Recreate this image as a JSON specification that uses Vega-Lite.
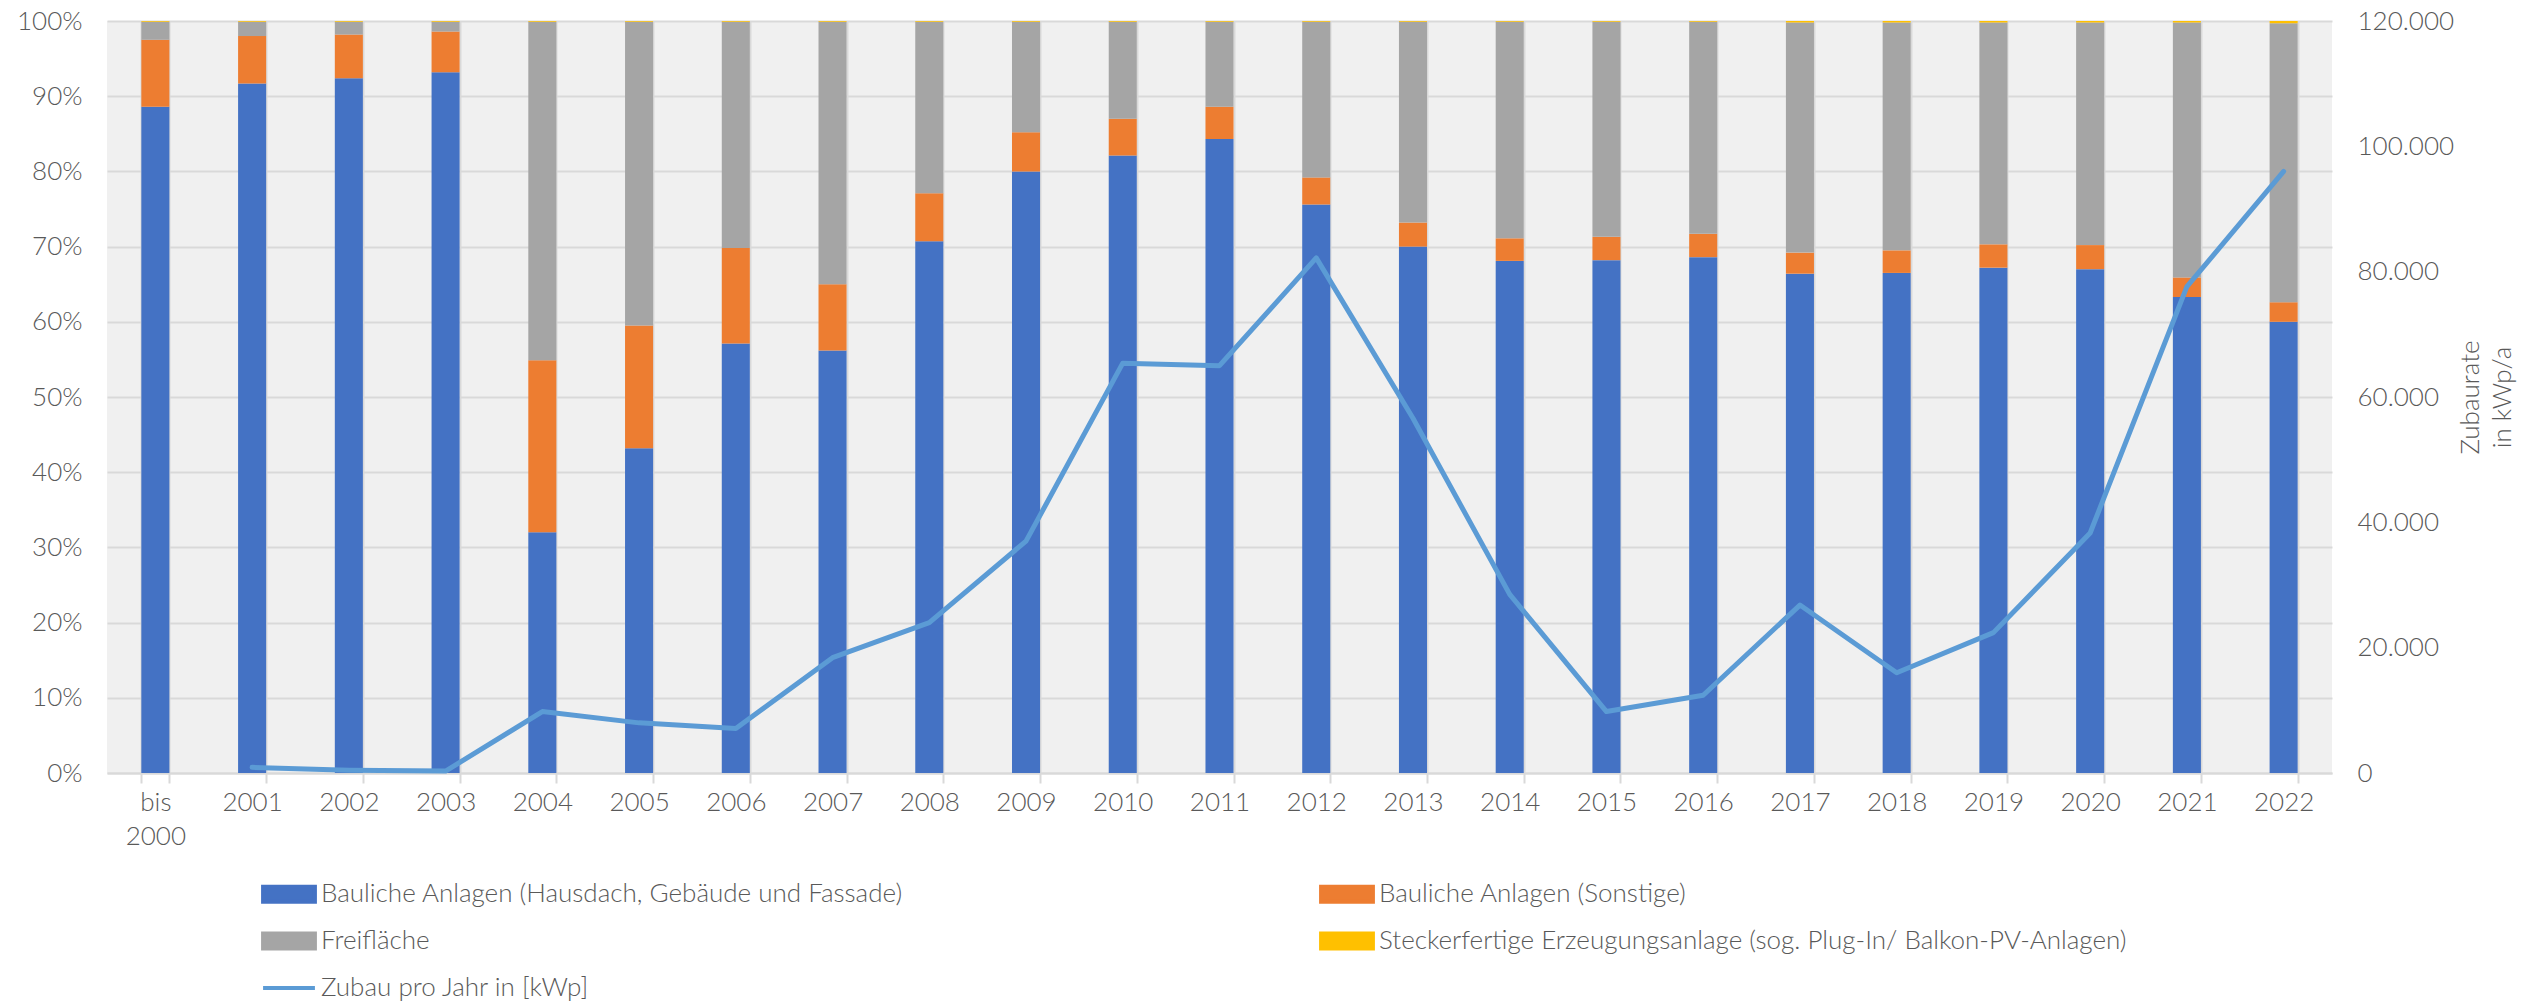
{
  "$schema": "https://vega.github.io/schema/vega-lite/v6.json",
  "autosize": "none",
  "width": 2225,
  "height": 752,
  "padding": {"left": 107, "top": 21, "right": 197, "bottom": 234},
  "background": "white",
  "config": {
    "view": {"stroke": null, "fill": "#f0f0f0"},
    "font": "Lato",
    "axis": {"labelFont": "Lato", "labelFontWeight": 300, "labelFontSize": 26, "labelColor": "#595959", "titleFont": "Lato", "titleFontWeight": 300, "titleFontSize": 26, "titleColor": "#595959"},
    "legend": {"labelFont": "Lato", "labelFontWeight": 300, "labelFontSize": 26, "labelColor": "#595959"}
  },
  "datasets": {
    "anteile": [
      {"jahr": "bis 2000", "kategorie": "Bauliche Anlagen (Hausdach, Gebäude und Fassade)", "anteil": 88.6},
      {"jahr": "bis 2000", "kategorie": "Bauliche Anlagen (Sonstige)", "anteil": 8.9},
      {"jahr": "bis 2000", "kategorie": "Freifläche", "anteil": 2.4},
      {"jahr": "bis 2000", "kategorie": "Steckerfertige Erzeugungsanlage (sog. Plug-In/ Balkon-PV-Anlagen)", "anteil": 0.1},
      {"jahr": "2001", "kategorie": "Bauliche Anlagen (Hausdach, Gebäude und Fassade)", "anteil": 91.7},
      {"jahr": "2001", "kategorie": "Bauliche Anlagen (Sonstige)", "anteil": 6.3},
      {"jahr": "2001", "kategorie": "Freifläche", "anteil": 1.9},
      {"jahr": "2001", "kategorie": "Steckerfertige Erzeugungsanlage (sog. Plug-In/ Balkon-PV-Anlagen)", "anteil": 0.1},
      {"jahr": "2002", "kategorie": "Bauliche Anlagen (Hausdach, Gebäude und Fassade)", "anteil": 92.4},
      {"jahr": "2002", "kategorie": "Bauliche Anlagen (Sonstige)", "anteil": 5.8},
      {"jahr": "2002", "kategorie": "Freifläche", "anteil": 1.7},
      {"jahr": "2002", "kategorie": "Steckerfertige Erzeugungsanlage (sog. Plug-In/ Balkon-PV-Anlagen)", "anteil": 0.1},
      {"jahr": "2003", "kategorie": "Bauliche Anlagen (Hausdach, Gebäude und Fassade)", "anteil": 93.2},
      {"jahr": "2003", "kategorie": "Bauliche Anlagen (Sonstige)", "anteil": 5.4},
      {"jahr": "2003", "kategorie": "Freifläche", "anteil": 1.3},
      {"jahr": "2003", "kategorie": "Steckerfertige Erzeugungsanlage (sog. Plug-In/ Balkon-PV-Anlagen)", "anteil": 0.1},
      {"jahr": "2004", "kategorie": "Bauliche Anlagen (Hausdach, Gebäude und Fassade)", "anteil": 32.0},
      {"jahr": "2004", "kategorie": "Bauliche Anlagen (Sonstige)", "anteil": 22.9},
      {"jahr": "2004", "kategorie": "Freifläche", "anteil": 45.0},
      {"jahr": "2004", "kategorie": "Steckerfertige Erzeugungsanlage (sog. Plug-In/ Balkon-PV-Anlagen)", "anteil": 0.1},
      {"jahr": "2005", "kategorie": "Bauliche Anlagen (Hausdach, Gebäude und Fassade)", "anteil": 43.2},
      {"jahr": "2005", "kategorie": "Bauliche Anlagen (Sonstige)", "anteil": 16.3},
      {"jahr": "2005", "kategorie": "Freifläche", "anteil": 40.4},
      {"jahr": "2005", "kategorie": "Steckerfertige Erzeugungsanlage (sog. Plug-In/ Balkon-PV-Anlagen)", "anteil": 0.1},
      {"jahr": "2006", "kategorie": "Bauliche Anlagen (Hausdach, Gebäude und Fassade)", "anteil": 57.1},
      {"jahr": "2006", "kategorie": "Bauliche Anlagen (Sonstige)", "anteil": 12.7},
      {"jahr": "2006", "kategorie": "Freifläche", "anteil": 30.1},
      {"jahr": "2006", "kategorie": "Steckerfertige Erzeugungsanlage (sog. Plug-In/ Balkon-PV-Anlagen)", "anteil": 0.1},
      {"jahr": "2007", "kategorie": "Bauliche Anlagen (Hausdach, Gebäude und Fassade)", "anteil": 56.2},
      {"jahr": "2007", "kategorie": "Bauliche Anlagen (Sonstige)", "anteil": 8.8},
      {"jahr": "2007", "kategorie": "Freifläche", "anteil": 34.9},
      {"jahr": "2007", "kategorie": "Steckerfertige Erzeugungsanlage (sog. Plug-In/ Balkon-PV-Anlagen)", "anteil": 0.1},
      {"jahr": "2008", "kategorie": "Bauliche Anlagen (Hausdach, Gebäude und Fassade)", "anteil": 70.7},
      {"jahr": "2008", "kategorie": "Bauliche Anlagen (Sonstige)", "anteil": 6.4},
      {"jahr": "2008", "kategorie": "Freifläche", "anteil": 22.8},
      {"jahr": "2008", "kategorie": "Steckerfertige Erzeugungsanlage (sog. Plug-In/ Balkon-PV-Anlagen)", "anteil": 0.1},
      {"jahr": "2009", "kategorie": "Bauliche Anlagen (Hausdach, Gebäude und Fassade)", "anteil": 80.0},
      {"jahr": "2009", "kategorie": "Bauliche Anlagen (Sonstige)", "anteil": 5.2},
      {"jahr": "2009", "kategorie": "Freifläche", "anteil": 14.7},
      {"jahr": "2009", "kategorie": "Steckerfertige Erzeugungsanlage (sog. Plug-In/ Balkon-PV-Anlagen)", "anteil": 0.1},
      {"jahr": "2010", "kategorie": "Bauliche Anlagen (Hausdach, Gebäude und Fassade)", "anteil": 82.1},
      {"jahr": "2010", "kategorie": "Bauliche Anlagen (Sonstige)", "anteil": 4.9},
      {"jahr": "2010", "kategorie": "Freifläche", "anteil": 12.9},
      {"jahr": "2010", "kategorie": "Steckerfertige Erzeugungsanlage (sog. Plug-In/ Balkon-PV-Anlagen)", "anteil": 0.1},
      {"jahr": "2011", "kategorie": "Bauliche Anlagen (Hausdach, Gebäude und Fassade)", "anteil": 84.3},
      {"jahr": "2011", "kategorie": "Bauliche Anlagen (Sonstige)", "anteil": 4.3},
      {"jahr": "2011", "kategorie": "Freifläche", "anteil": 11.3},
      {"jahr": "2011", "kategorie": "Steckerfertige Erzeugungsanlage (sog. Plug-In/ Balkon-PV-Anlagen)", "anteil": 0.1},
      {"jahr": "2012", "kategorie": "Bauliche Anlagen (Hausdach, Gebäude und Fassade)", "anteil": 75.6},
      {"jahr": "2012", "kategorie": "Bauliche Anlagen (Sonstige)", "anteil": 3.6},
      {"jahr": "2012", "kategorie": "Freifläche", "anteil": 20.7},
      {"jahr": "2012", "kategorie": "Steckerfertige Erzeugungsanlage (sog. Plug-In/ Balkon-PV-Anlagen)", "anteil": 0.1},
      {"jahr": "2013", "kategorie": "Bauliche Anlagen (Hausdach, Gebäude und Fassade)", "anteil": 70.0},
      {"jahr": "2013", "kategorie": "Bauliche Anlagen (Sonstige)", "anteil": 3.2},
      {"jahr": "2013", "kategorie": "Freifläche", "anteil": 26.7},
      {"jahr": "2013", "kategorie": "Steckerfertige Erzeugungsanlage (sog. Plug-In/ Balkon-PV-Anlagen)", "anteil": 0.1},
      {"jahr": "2014", "kategorie": "Bauliche Anlagen (Hausdach, Gebäude und Fassade)", "anteil": 68.1},
      {"jahr": "2014", "kategorie": "Bauliche Anlagen (Sonstige)", "anteil": 3.0},
      {"jahr": "2014", "kategorie": "Freifläche", "anteil": 28.8},
      {"jahr": "2014", "kategorie": "Steckerfertige Erzeugungsanlage (sog. Plug-In/ Balkon-PV-Anlagen)", "anteil": 0.1},
      {"jahr": "2015", "kategorie": "Bauliche Anlagen (Hausdach, Gebäude und Fassade)", "anteil": 68.2},
      {"jahr": "2015", "kategorie": "Bauliche Anlagen (Sonstige)", "anteil": 3.1},
      {"jahr": "2015", "kategorie": "Freifläche", "anteil": 28.6},
      {"jahr": "2015", "kategorie": "Steckerfertige Erzeugungsanlage (sog. Plug-In/ Balkon-PV-Anlagen)", "anteil": 0.1},
      {"jahr": "2016", "kategorie": "Bauliche Anlagen (Hausdach, Gebäude und Fassade)", "anteil": 68.6},
      {"jahr": "2016", "kategorie": "Bauliche Anlagen (Sonstige)", "anteil": 3.1},
      {"jahr": "2016", "kategorie": "Freifläche", "anteil": 28.2},
      {"jahr": "2016", "kategorie": "Steckerfertige Erzeugungsanlage (sog. Plug-In/ Balkon-PV-Anlagen)", "anteil": 0.1},
      {"jahr": "2017", "kategorie": "Bauliche Anlagen (Hausdach, Gebäude und Fassade)", "anteil": 66.4},
      {"jahr": "2017", "kategorie": "Bauliche Anlagen (Sonstige)", "anteil": 2.8},
      {"jahr": "2017", "kategorie": "Freifläche", "anteil": 30.6},
      {"jahr": "2017", "kategorie": "Steckerfertige Erzeugungsanlage (sog. Plug-In/ Balkon-PV-Anlagen)", "anteil": 0.2},
      {"jahr": "2018", "kategorie": "Bauliche Anlagen (Hausdach, Gebäude und Fassade)", "anteil": 66.5},
      {"jahr": "2018", "kategorie": "Bauliche Anlagen (Sonstige)", "anteil": 3.0},
      {"jahr": "2018", "kategorie": "Freifläche", "anteil": 30.3},
      {"jahr": "2018", "kategorie": "Steckerfertige Erzeugungsanlage (sog. Plug-In/ Balkon-PV-Anlagen)", "anteil": 0.2},
      {"jahr": "2019", "kategorie": "Bauliche Anlagen (Hausdach, Gebäude und Fassade)", "anteil": 67.2},
      {"jahr": "2019", "kategorie": "Bauliche Anlagen (Sonstige)", "anteil": 3.1},
      {"jahr": "2019", "kategorie": "Freifläche", "anteil": 29.5},
      {"jahr": "2019", "kategorie": "Steckerfertige Erzeugungsanlage (sog. Plug-In/ Balkon-PV-Anlagen)", "anteil": 0.2},
      {"jahr": "2020", "kategorie": "Bauliche Anlagen (Hausdach, Gebäude und Fassade)", "anteil": 67.0},
      {"jahr": "2020", "kategorie": "Bauliche Anlagen (Sonstige)", "anteil": 3.2},
      {"jahr": "2020", "kategorie": "Freifläche", "anteil": 29.6},
      {"jahr": "2020", "kategorie": "Steckerfertige Erzeugungsanlage (sog. Plug-In/ Balkon-PV-Anlagen)", "anteil": 0.2},
      {"jahr": "2021", "kategorie": "Bauliche Anlagen (Hausdach, Gebäude und Fassade)", "anteil": 63.3},
      {"jahr": "2021", "kategorie": "Bauliche Anlagen (Sonstige)", "anteil": 2.6},
      {"jahr": "2021", "kategorie": "Freifläche", "anteil": 33.9},
      {"jahr": "2021", "kategorie": "Steckerfertige Erzeugungsanlage (sog. Plug-In/ Balkon-PV-Anlagen)", "anteil": 0.2},
      {"jahr": "2022", "kategorie": "Bauliche Anlagen (Hausdach, Gebäude und Fassade)", "anteil": 60.0},
      {"jahr": "2022", "kategorie": "Bauliche Anlagen (Sonstige)", "anteil": 2.6},
      {"jahr": "2022", "kategorie": "Freifläche", "anteil": 37.1},
      {"jahr": "2022", "kategorie": "Steckerfertige Erzeugungsanlage (sog. Plug-In/ Balkon-PV-Anlagen)", "anteil": 0.3}
    ],
    "zubau": [
      {"jahr": "2001", "serie": "Zubau pro Jahr in [kWp]", "kwp": 900},
      {"jahr": "2002", "serie": "Zubau pro Jahr in [kWp]", "kwp": 450},
      {"jahr": "2003", "serie": "Zubau pro Jahr in [kWp]", "kwp": 300},
      {"jahr": "2004", "serie": "Zubau pro Jahr in [kWp]", "kwp": 9800},
      {"jahr": "2005", "serie": "Zubau pro Jahr in [kWp]", "kwp": 8000},
      {"jahr": "2006", "serie": "Zubau pro Jahr in [kWp]", "kwp": 7100},
      {"jahr": "2007", "serie": "Zubau pro Jahr in [kWp]", "kwp": 18400},
      {"jahr": "2008", "serie": "Zubau pro Jahr in [kWp]", "kwp": 24000},
      {"jahr": "2009", "serie": "Zubau pro Jahr in [kWp]", "kwp": 37000},
      {"jahr": "2010", "serie": "Zubau pro Jahr in [kWp]", "kwp": 65400},
      {"jahr": "2011", "serie": "Zubau pro Jahr in [kWp]", "kwp": 65000},
      {"jahr": "2012", "serie": "Zubau pro Jahr in [kWp]", "kwp": 82200},
      {"jahr": "2013", "serie": "Zubau pro Jahr in [kWp]", "kwp": 56600},
      {"jahr": "2014", "serie": "Zubau pro Jahr in [kWp]", "kwp": 28500},
      {"jahr": "2015", "serie": "Zubau pro Jahr in [kWp]", "kwp": 9800},
      {"jahr": "2016", "serie": "Zubau pro Jahr in [kWp]", "kwp": 12400},
      {"jahr": "2017", "serie": "Zubau pro Jahr in [kWp]", "kwp": 26800},
      {"jahr": "2018", "serie": "Zubau pro Jahr in [kWp]", "kwp": 16000},
      {"jahr": "2019", "serie": "Zubau pro Jahr in [kWp]", "kwp": 22400},
      {"jahr": "2020", "serie": "Zubau pro Jahr in [kWp]", "kwp": 38300},
      {"jahr": "2021", "serie": "Zubau pro Jahr in [kWp]", "kwp": 77600},
      {"jahr": "2022", "serie": "Zubau pro Jahr in [kWp]", "kwp": 96000}
    ]
  },
  "encoding": {
    "x": {
      "field": "jahr",
      "type": "nominal",
      "sort": null,
      "scale": {"domain": ["bis 2000", "2001", "2002", "2003", "2004", "2005", "2006", "2007", "2008", "2009", "2010", "2011", "2012", "2013", "2014", "2015", "2016", "2017", "2018", "2019", "2020", "2021", "2022"], "paddingInner": 0.71, "paddingOuter": 0.355},
      "axis": {
        "title": null,
        "labelAngle": 0,
        "labelExpr": "datum.label == 'bis 2000' ? ['bis', '2000'] : datum.label",
        "labelLineHeight": 34,
        "labelPadding": 6,
        "labelBaseline": "top",
        "tickBand": "extent",
        "tickSize": 10,
        "tickColor": "#d9d9d9",
        "tickWidth": 2,
        "domainColor": "#d9d9d9",
        "domainWidth": 2,
        "grid": true,
        "gridColor": "#d9d9d9",
        "gridWidth": 2
      }
    },
    "color": {
      "field": "kategorie",
      "type": "nominal",
      "scale": {
        "domain": ["Bauliche Anlagen (Hausdach, Gebäude und Fassade)", "Bauliche Anlagen (Sonstige)", "Freifläche", "Steckerfertige Erzeugungsanlage (sog. Plug-In/ Balkon-PV-Anlagen)", "Zubau pro Jahr in [kWp]"],
        "range": ["#4472c4", "#ed7d31", "#a5a5a5", "#ffc000", "#5b9bd5"]
      },
      "legend": {
        "title": null,
        "orient": "none",
        "direction": "horizontal",
        "legendX": 156,
        "legendY": 847,
        "columns": 2,
        "columnPadding": 410,
        "rowPadding": 5,
        "labelLimit": 1200,
        "symbolSize": 2304,
        "labelOffset": 6,
        "symbolStrokeWidth": 4,
        "encode": {
          "symbols": {
            "update": {
              "shape": {"signal": "datum.value === 'Zubau pro Jahr in [kWp]' ? 'M-1.08,0H1.08' : 'M-1.08,-0.31H1.08V0.31H-1.08Z'"},
              "stroke": {"signal": "datum.value === 'Zubau pro Jahr in [kWp]' ? '#5b9bd5' : 'transparent'"},
              "strokeWidth": {"value": 4},
              "opacity": {"value": 1}
            }
          }
        }
      }
    }
  },
  "layer": [
    {
      "data": {"name": "anteile"},
      "mark": {"type": "bar"},
      "encoding": {
        "y": {
          "field": "anteil",
          "type": "quantitative",
          "stack": "zero",
          "scale": {"domain": [0, 100], "nice": false},
          "axis": {
            "title": null,
            "values": [0, 10, 20, 30, 40, 50, 60, 70, 80, 90, 100],
            "labelExpr": "datum.value + '%'",
            "labelPadding": 25,
            "domain": false,
            "ticks": false,
            "grid": true,
            "gridColor": "#d9d9d9",
            "gridWidth": 2
          }
        },
        "order": {"field": "kategorie", "type": "nominal", "sort": "ascending"}
      }
    },
    {
      "data": {"name": "zubau"},
      "mark": {"type": "line", "strokeWidth": 5, "strokeCap": "round", "strokeJoin": "round"},
      "encoding": {
        "y": {
          "field": "kwp",
          "type": "quantitative",
          "scale": {"domain": [0, 120000], "nice": false},
          "axis": {
            "orient": "right",
            "title": ["Zubaurate", "in kWp/a"],
            "titleAngle": 270,
            "titleLineHeight": 32,
            "titlePadding": -2,
            "values": [0, 20000, 40000, 60000, 80000, 100000, 120000],
            "labelExpr": "replace(format(datum.value, ',d'), ',', '.')",
            "labelPadding": 25,
            "domain": false,
            "ticks": false,
            "grid": false
          }
        },
        "color": {"field": "serie", "type": "nominal"}
      }
    }
  ],
  "resolve": {"scale": {"y": "independent"}}
}
